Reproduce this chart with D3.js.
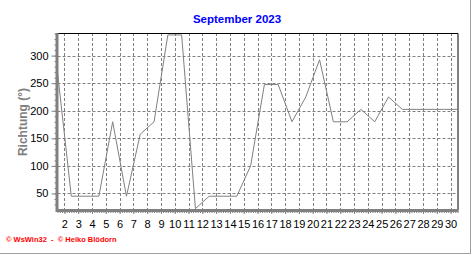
<!DOCTYPE html>
<html>
<head>
<meta charset="utf-8">
<style>
  body { margin: 0; background: #fff; }
  svg { display: block; }
</style>
</head>
<body>
<svg id="chart" width="472" height="255"></svg>
<script src="https://d3js.org/d3.v7.min.js"></script>
<script>

// wind direction, one value per day of September 2023
var days = d3.range(1, 31);
var richtung = [270, 45, 45, 45, 180, 45, 157.5, 180, 337.5, 337.5,
                22.5, 45, 45, 45, 100, 247.5, 247.5, 180, 225, 292.5,
                180, 180, 202.5, 180, 225, 202.5, 202.5, 202.5, 202.5, 202.5];
var yTicks = [50, 100, 150, 200, 250, 300];
var xTicks = d3.range(2, 31);

var titel = "September 2023",
    yTitel = "Richtung (°)",
    fuss = "\u00a9 WsWin32  -  \u00a9 Heiko Blödorn";

var svg = d3.select("#chart"),
    width = +svg.attr("width"),
    height = +svg.attr("height");

var pL = 57.5, pR = 457.5, pT = 33, pB = 210;

var x = d3.scaleLinear().domain([1.5, 30.5]).range([pL, pR]);
var y = d3.scaleLinear().domain([20, 341]).range([pB, pT]);

svg.append("rect")
    .attr("width", width)
    .attr("height", height)
    .attr("fill", "#fff");

// outer frame lines (right, bottom)
svg.append("line")
    .attr("x1", 470.5).attr("x2", 470.5)
    .attr("y1", 0).attr("y2", 254)
    .attr("stroke", "#a0a0a0");
svg.append("line")
    .attr("x1", 0).attr("x2", 471)
    .attr("y1", 253.5).attr("y2", 253.5)
    .attr("stroke", "#a0a0a0");

// grid
var grid = svg.append("g")
    .attr("stroke", "#808080")
    .attr("stroke-dasharray", "3,2");

grid.selectAll(".gy")
  .data(yTicks)
  .enter().append("line")
    .attr("x1", pL).attr("x2", pR)
    .attr("y1", function(d) { return Math.round(y(d)) + 0.5; })
    .attr("y2", function(d) { return Math.round(y(d)) + 0.5; });

grid.selectAll(".gx")
  .data(xTicks)
  .enter().append("line")
    .attr("x1", function(d) { return Math.round(x(d)) + 0.5; })
    .attr("x2", function(d) { return Math.round(x(d)) + 0.5; })
    .attr("y1", pT).attr("y2", pB);

// top and right border
svg.append("path")
    .attr("d", "M" + pL + "," + (pT + 0.5) + "H" + (pR + 0.5) + "V" + pB)
    .attr("fill", "none")
    .attr("stroke", "#000");

// data line
var line = d3.line()
    .x(function(d, i) { return x(days[i] + 0.5); })
    .y(function(d) { return y(d); });

svg.append("path")
    .datum(richtung)
    .attr("d", line)
    .attr("fill", "none")
    .attr("stroke", "#808080")
    .attr("stroke-width", 1);

// y axis
var yAxis = d3.axisLeft(y)
    .tickValues(yTicks)
    .tickSize(5)
    .tickSizeOuter(0)
    .tickPadding(3);

var gy = svg.append("g")
    .attr("transform", "translate(" + (pL - 1) + ",0)")
    .call(yAxis);
gy.select(".domain").remove();
gy.selectAll(".tick line").attr("stroke", "#808080");
gy.selectAll("text")
    .attr("font-family", "Arial, 'Liberation Sans', sans-serif")
    .attr("font-size", 11)
    .attr("fill", "#000");

var yMinor = d3.axisLeft(y)
    .tickValues(d3.range(30, 341, 10))
    .tickSize(2)
    .tickSizeOuter(0)
    .tickFormat("");
var gym = svg.append("g")
    .attr("transform", "translate(" + (pL - 1) + ",0)")
    .call(yMinor);
gym.select(".domain").remove();
gym.selectAll("line").attr("stroke", "#808080");

// x axis
var xAxis = d3.axisBottom(x)
    .tickValues(xTicks)
    .tickSize(3)
    .tickSizeOuter(0)
    .tickPadding(6);

var gx = svg.append("g")
    .attr("transform", "translate(0," + (pB + 1) + ")")
    .call(xAxis);
gx.select(".domain").remove();
gx.selectAll(".tick line").attr("stroke", "#808080");
gx.selectAll("text")
    .attr("font-family", "Arial, 'Liberation Sans', sans-serif")
    .attr("font-size", 11)
    .attr("fill", "#000");

var xMinor = d3.axisBottom(x)
    .tickValues(d3.range(1.5, 30.51, 1 / 6))
    .tickSize(2)
    .tickSizeOuter(0)
    .tickFormat("");
var gxm = svg.append("g")
    .attr("transform", "translate(0," + (pB + 1) + ")")
    .call(xMinor);
gxm.select(".domain").remove();
gxm.selectAll("line").attr("stroke", "#808080");

// thick axis lines
svg.append("path")
    .attr("d", "M" + (pL - 0.5) + "," + pT + "V" + (pB + 0.5) + "H" + (pR + 1))
    .attr("fill", "none")
    .attr("stroke", "#808080")
    .attr("stroke-width", 3);

// titles
svg.append("text")
    .attr("x", 237)
    .attr("y", 22.5)
    .attr("text-anchor", "middle")
    .attr("font-family", "Arial, 'Liberation Sans', sans-serif")
    .attr("font-size", 11.5)
    .attr("font-weight", "bold")
    .attr("fill", "#0000ff")
    .text(titel);

svg.append("text")
    .attr("transform", "translate(27,122) rotate(-90)")
    .attr("text-anchor", "middle")
    .attr("font-family", "Arial, 'Liberation Sans', sans-serif")
    .attr("font-size", 12)
    .attr("font-weight", "bold")
    .attr("fill", "#808080")
    .text(yTitel);

svg.append("text")
    .attr("x", 6)
    .attr("y", 242)
    .attr("font-family", "Arial, 'Liberation Sans', sans-serif")
    .attr("font-size", 7.5)
    .attr("font-weight", "bold")
    .attr("fill", "#ff0000")
    .attr("xml:space", "preserve")
    .text(fuss);
</script>
</body>
</html>
